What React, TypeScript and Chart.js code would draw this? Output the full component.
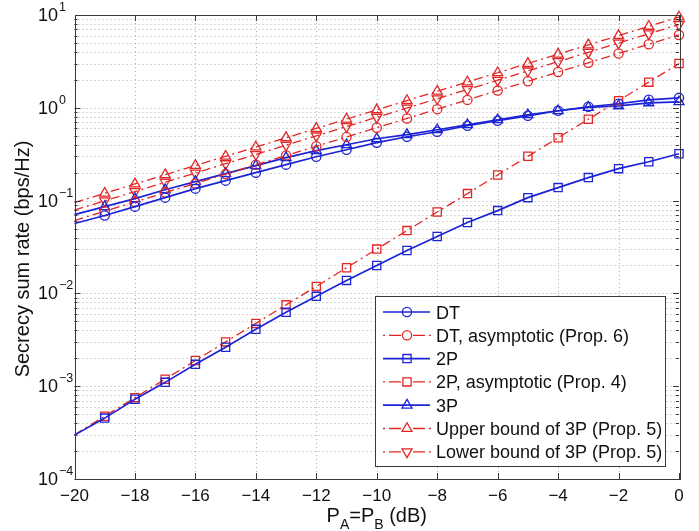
import { useEffect, useRef } from 'react';
import { Chart, registerables } from 'chart.js';

Chart.register(...registerables);

// ---------- data ----------
const powerDb = [-20, -19, -18, -17, -16, -15, -14, -13, -12, -11, -10, -9, -8, -7, -6, -5, -4, -3, -2, -1, 0];

const dtRate = [0.0566, 0.069, 0.0861, 0.1076, 0.1345, 0.164, 0.2, 0.244, 0.297, 0.353, 0.421, 0.488, 0.552, 0.64, 0.725, 0.82, 0.929, 1.026, 1.105, 1.22, 1.28];
const dtAsymptotic = [0.061, 0.0768, 0.0967, 0.122, 0.153, 0.193, 0.243, 0.306, 0.385, 0.485, 0.61, 0.768, 0.967, 1.217, 1.532, 1.929, 2.428, 3.057, 3.849, 4.845, 6.1];
const twoPRate = [2.97e-4, 4.53e-4, 7.24e-4, 1.1e-3, 1.72e-3, 2.63e-3, 4.1e-3, 6.25e-3, 9.29e-3, 0.0138, 0.02, 0.029, 0.041, 0.058, 0.078, 0.1076, 0.138, 0.177, 0.221, 0.262, 0.32];
const twoPAsymptotic = [3.0e-4, 4.75e-4, 7.53e-4, 1.19e-3, 1.89e-3, 3.0e-3, 4.75e-3, 7.53e-3, 0.0119, 0.0189, 0.03, 0.0475, 0.0753, 0.119, 0.189, 0.3, 0.475, 0.753, 1.19, 1.89, 3.0];
const threePRate = [0.0707, 0.0861, 0.105, 0.131, 0.16, 0.195, 0.238, 0.29, 0.345, 0.4, 0.464, 0.513, 0.58, 0.656, 0.743, 0.841, 0.929, 1.01, 1.05, 1.13, 1.16];
const threePUpper = [0.095, 0.12, 0.151, 0.19, 0.239, 0.3, 0.378, 0.476, 0.599, 0.755, 0.95, 1.196, 1.506, 1.895, 2.386, 3.004, 3.782, 4.761, 5.995, 7.546, 9.5];
const threePLower = [0.079, 0.0995, 0.125, 0.158, 0.198, 0.25, 0.314, 0.396, 0.498, 0.627, 0.79, 0.995, 1.252, 1.576, 1.984, 2.498, 3.145, 3.959, 4.985, 6.275, 7.9];

const seriesLabels = [
  'DT',
  'DT, asymptotic (Prop. 6)',
  '2P',
  '2P, asymptotic (Prop. 4)',
  '3P',
  'Upper bound of 3P (Prop. 5)',
  'Lower bound of 3P (Prop. 5)',
];

const xTickValues = [-20, -18, -16, -14, -12, -10, -8, -6, -4, -2, 0];
const xTickLabels = ['\u221220', '\u221218', '\u221216', '\u221214', '\u221212', '\u221210', '\u22128', '\u22126', '\u22124', '\u22122', '0'];
const yDecadeExponents = [-4, -3, -2, -1, 0, 1];
const yExponentLabels = ['\u22124', '\u22123', '\u22122', '\u22121', '0', '1'];
const yAxisTitle = 'Secrecy sum rate (bps/Hz)';

// ---------- styles ----------
const BLUE = 'rgb(28,36,212)';
const RED = 'rgb(226,38,38)';
const FONT = '"Liberation Sans", Arial, Helvetica, sans-serif';
const GRID = 'rgba(120,120,120,0.6)';
const AXIS = '#3a3a3a';

type Marker = 'circle' | 'rect' | 'triangle' | 'down';

const seriesStyle: { color: string; dash: number[]; marker: Marker; radius: number; width: number }[] = [
  { color: BLUE, dash: [], marker: 'circle', radius: 4.6, width: 1.7 },
  { color: RED, dash: [9, 4, 2, 4], marker: 'circle', radius: 4.6, width: 1.3 },
  { color: BLUE, dash: [], marker: 'rect', radius: 5.8, width: 1.7 },
  { color: RED, dash: [9, 4, 2, 4], marker: 'rect', radius: 5.8, width: 1.3 },
  { color: BLUE, dash: [], marker: 'triangle', radius: 5.8, width: 1.7 },
  { color: RED, dash: [9, 4, 2, 4], marker: 'triangle', radius: 5.8, width: 1.3 },
  { color: RED, dash: [9, 4, 2, 4], marker: 'down', radius: 5.8, width: 1.3 },
];

const seriesValues = [dtRate, dtAsymptotic, twoPRate, twoPAsymptotic, threePRate, threePUpper, threePLower];

function drawMarker(ctx: CanvasRenderingContext2D, m: Marker, x: number, y: number, r: number) {
  ctx.beginPath();
  if (m === 'circle') {
    ctx.arc(x, y, r, 0, Math.PI * 2);
  } else if (m === 'rect') {
    const s = r * Math.SQRT1_2;
    ctx.rect(x - s, y - s, 2 * s, 2 * s);
  } else {
    const sgn = m === 'triangle' ? 1 : -1;
    for (let k = 0; k < 3; k++) {
      const a = (k * 2 * Math.PI) / 3;
      const px = x + Math.sin(a) * r;
      const py = y - sgn * Math.cos(a) * r;
      if (k === 0) ctx.moveTo(px, py);
      else ctx.lineTo(px, py);
    }
    ctx.closePath();
  }
  ctx.stroke();
}

const matlabPlugin = {
  id: 'matlabAxes',
  beforeDatasetsDraw(chart: any) {
    const { ctx, chartArea: a } = chart;
    const xs = chart.scales.x;
    const ys = chart.scales.y;
    ctx.save();
    ctx.strokeStyle = GRID;
    ctx.lineWidth = 1;
    ctx.setLineDash([1, 3]);
    for (const v of xTickValues) {
      if (v === xTickValues[0] || v === xTickValues[xTickValues.length - 1]) continue;
      const px = Math.round(xs.getPixelForValue(v)) + 0.5;
      ctx.beginPath();
      ctx.moveTo(px, a.top);
      ctx.lineTo(px, a.bottom);
      ctx.stroke();
    }
    for (let e = -4; e <= 0; e++) {
      for (let m = 1; m <= 9; m++) {
        if (e === -4 && m === 1) continue;
        const v = m * Math.pow(10, e);
        const py = Math.round(ys.getPixelForValue(v)) + 0.5;
        ctx.beginPath();
        ctx.moveTo(a.left, py);
        ctx.lineTo(a.right, py);
        ctx.stroke();
      }
    }
    ctx.restore();
  },
  afterDraw(chart: any) {
    const { ctx, chartArea: a } = chart;
    const xs = chart.scales.x;
    const ys = chart.scales.y;
    ctx.save();
    ctx.setLineDash([]);
    // axes box
    ctx.strokeStyle = AXIS;
    ctx.lineWidth = 1;
    ctx.strokeRect(Math.round(a.left) + 0.5, Math.round(a.top) + 0.5, Math.round(a.right - a.left), Math.round(a.bottom - a.top));
    // x ticks
    for (const v of xTickValues) {
      const px = Math.round(xs.getPixelForValue(v)) + 0.5;
      ctx.beginPath();
      ctx.moveTo(px, a.bottom);
      ctx.lineTo(px, a.bottom - 6);
      ctx.moveTo(px, a.top);
      ctx.lineTo(px, a.top + 6);
      ctx.stroke();
    }
    // y ticks
    for (let e = -4; e <= 0; e++) {
      for (let m = 1; m <= 9; m++) {
        const v = m * Math.pow(10, e);
        const py = Math.round(ys.getPixelForValue(v)) + 0.5;
        const len = m === 1 ? 6 : 3;
        ctx.beginPath();
        ctx.moveTo(a.left, py);
        ctx.lineTo(a.left + len, py);
        ctx.moveTo(a.right, py);
        ctx.lineTo(a.right - len, py);
        ctx.stroke();
      }
    }
    // x tick labels
    ctx.fillStyle = '#111';
    ctx.font = `17px ${FONT}`;
    ctx.textAlign = 'center';
    ctx.textBaseline = 'alphabetic';
    xTickValues.forEach((v, i) => {
      ctx.fillText(xTickLabels[i], xs.getPixelForValue(v), a.bottom + 22);
    });
    // y tick labels 10^e
    yDecadeExponents.forEach((e, i) => {
      const py = ys.getPixelForValue(Math.pow(10, e));
      ctx.font = `18px ${FONT}`;
      ctx.textAlign = 'right';
      ctx.fillText('10', 58, py + 6);
      ctx.font = `12.5px ${FONT}`;
      ctx.textAlign = 'left';
      ctx.fillText(yExponentLabels[i], 59, py - 4);
    });
    // y title
    ctx.save();
    ctx.translate(29, 259);
    ctx.rotate(-Math.PI / 2);
    ctx.font = `20px ${FONT}`;
    ctx.textAlign = 'center';
    ctx.fillText(yAxisTitle, 0, 0);
    ctx.restore();
    // x title  P_A=P_B (dB)
    const parts: [string, boolean][] = [['P', false], ['A', true], ['=P', false], ['B', true], [' (dB)', false]];
    const big = `20px ${FONT}`;
    const small = `14px ${FONT}`;
    let total = 0;
    for (const [t, sub] of parts) {
      ctx.font = sub ? small : big;
      total += ctx.measureText(t).width;
    }
    let cx = (a.left + a.right) / 2 - total / 2;
    ctx.textAlign = 'left';
    for (const [t, sub] of parts) {
      ctx.font = sub ? small : big;
      ctx.fillText(t, cx, sub ? 529 : 522);
      cx += ctx.measureText(t).width;
    }
    // legend
    const L = { x: 375.5, y: 296.5, w: 290, h: 170 };
    ctx.fillStyle = '#fff';
    ctx.fillRect(L.x, L.y, L.w, L.h);
    ctx.strokeStyle = AXIS;
    ctx.lineWidth = 1;
    ctx.strokeRect(L.x, L.y, L.w, L.h);
    seriesLabels.forEach((label, i) => {
      const st = seriesStyle[i];
      const ry = 312 + i * 23.3;
      ctx.strokeStyle = st.color;
      ctx.lineWidth = st.width;
      ctx.beginPath();
      if (st.dash.length) {
        const segs = [[383, 385], [389, 401], [413, 425], [429, 431]];
        for (const [s0, s1] of segs) {
          ctx.moveTo(s0, ry);
          ctx.lineTo(s1, ry);
        }
      } else {
        ctx.moveTo(383, ry);
        ctx.lineTo(430, ry);
      }
      ctx.stroke();
      ctx.lineWidth = 1.3;
      drawMarker(ctx, st.marker, 407, ry, st.radius);
      ctx.fillStyle = '#111';
      ctx.font = `18px ${FONT}`;
      ctx.textAlign = 'left';
      ctx.fillText(label, 436, ry + 6.5);
    });
    ctx.restore();
  },
};

export default function App() {
  const ref = useRef<HTMLCanvasElement>(null);
  useEffect(() => {
    const canvas = ref.current;
    if (!canvas) return;
    const datasets = seriesValues.map((vals, i) => {
      const st = seriesStyle[i];
      const pointStyle = st.marker === 'down' ? 'triangle' : st.marker;
      return {
        label: seriesLabels[i],
        data: powerDb.map((x, k) => ({ x, y: vals[k] })),
        borderColor: st.color,
        backgroundColor: 'rgba(0,0,0,0)',
        borderWidth: st.width,
        borderDash: st.dash,
        pointStyle,
        pointRotation: st.marker === 'down' ? 180 : 0,
        pointRadius: (c: any) => (c.dataIndex === 0 ? 0 : st.radius),
        pointBorderWidth: 1.3,
        pointBorderColor: st.color,
        pointBackgroundColor: 'rgba(0,0,0,0)',
        pointHoverRadius: 0,
        tension: 0,
        fill: false,
        clip: false as any,
      };
    });
    const chart = new Chart(canvas, {
      type: 'line',
      data: { datasets: datasets as any },
      options: {
        responsive: false,
        animation: false,
        events: [],
        layout: { padding: { top: 15, right: 20, left: 0, bottom: 0 } },
        plugins: { legend: { display: false }, tooltip: { enabled: false } },
        scales: {
          x: {
            type: 'linear',
            min: -20,
            max: 0,
            grid: { display: false },
            border: { display: false },
            ticks: { display: false },
            afterFit: (s: any) => {
              s.height = 52;
            },
          },
          y: {
            type: 'logarithmic',
            min: 1e-4,
            max: 10,
            grid: { display: false },
            border: { display: false },
            ticks: { display: false },
            afterFit: (s: any) => {
              s.width = 74.5;
            },
          },
        },
      },
      plugins: [matlabPlugin as any],
    });
    return () => chart.destroy();
  }, []);
  return (
    <div style={{ position: 'fixed', left: 0, top: 0, width: 699, height: 531, background: '#fff' }}>
      <canvas ref={ref} width={699} height={531} style={{ display: 'block', width: 699, height: 531 }} />
    </div>
  );
}
